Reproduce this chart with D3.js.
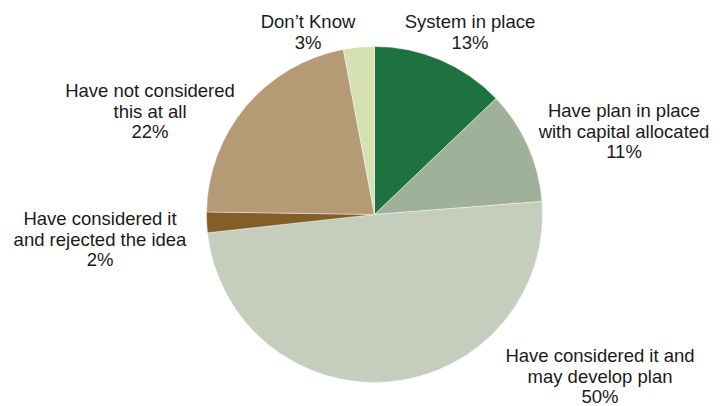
<!DOCTYPE html>
<html>
<head>
<meta charset="utf-8">
<title>Pie chart</title>
<script src="https://cdn.jsdelivr.net/npm/d3@7"></script>
<style>
  body { margin: 0; background: #fff; }
  svg text { font-family: "Liberation Sans", Arial, Helvetica, sans-serif; font-size: 18.5px; fill: #1a1a1a; }
</style>
</head>
<body>
<div id="chart"></div>
<script>
// data
var categories = [
  ["System in place"],
  ["Have plan in place", "with capital allocated"],
  ["Have considered it and", "may develop plan"],
  ["Have considered it", "and rejected the idea"],
  ["Have not considered", "this at all"],
  ["Don\u2019t Know"]
];
var values = [13, 11, 50, 2, 22, 3];
var colors = ["#1e7240", "#9fb299", "#c5cebd", "#845e28", "#b59a76", "#d5e1b2"];

// label anchors (centre x, first baseline y)
var labelPos = [[470, 28], [624, 117], [600, 362], [100, 225], [150, 97], [308, 28]];

var width = 724, height = 406;
var cx = 374.5, cy = 214.5, radius = 168;
var lineH = 20.7;

var svg = d3.select("#chart").append("svg")
    .attr("width", width)
    .attr("height", height);

var pie = d3.pie().sort(null).value(function(d){ return d; });
var arc = d3.arc().innerRadius(0).outerRadius(radius);

var g = svg.append("g").attr("transform", "translate(" + cx + "," + cy + ")");

g.selectAll("path")
  .data(pie(values))
  .enter().append("path")
  .attr("d", arc)
  .attr("fill", function(d, i){ return colors[i]; })
  .attr("stroke", "#fff")
  .attr("stroke-width", 0.4);

// labels
var labels = svg.selectAll("text.lbl")
  .data(categories)
  .enter().append("text")
  .attr("class", "lbl")
  .attr("text-anchor", "middle")
  .attr("transform", function(d, i){ return "translate(" + labelPos[i][0] + "," + labelPos[i][1] + ")"; });

labels.each(function(d, i){
  var t = d3.select(this);
  var lines = d.concat([values[i] + "%"]);
  lines.forEach(function(s, k){
    t.append("tspan").attr("x", 0).attr("y", k * lineH).text(s);
  });
});
</script>
</body>
</html>
